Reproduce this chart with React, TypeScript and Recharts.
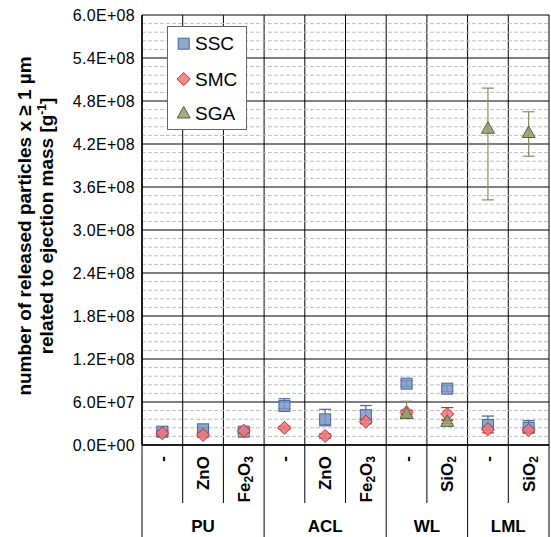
import React from 'react';
import {
  ComposedChart,
  Scatter,
  ErrorBar,
  XAxis,
  YAxis,
  CartesianGrid,
  ReferenceLine,
  Legend,
} from 'recharts';

const FONT = '"Liberation Sans", Arial, Helvetica, sans-serif';

// categories (sub labels) and their material groups
const CATS = ['-', 'ZnO', 'Fe2O3', '-', 'ZnO', 'Fe2O3', '-', 'SiO2', '-', 'SiO2'];
const GROUPS = ['PU', 'PU', 'PU', 'ACL', 'ACL', 'ACL', 'WL', 'WL', 'LML', 'LML'];

// series values [g^-1]
const SSC = [1.86e7, 2.19e7, 1.86e7, 5.45e7, 3.58e7, 4.16e7, 8.56e7, 7.86e7, 2.79e7, 2.4e7];
const SSC_ERR = [
  [2e6, 2e6], [2e6, 2e6], [2e6, 2e6], [4e6, 1e7], [9e6, 1.4e7],
  [5e6, 1.35e7], [4e6, 4e6], [4e6, 4e6], [4e6, 1.25e7], [4e6, 1e7],
];
const SMC = [1.63e7, 1.4e7, 2.0e7, 2.4e7, 1.26e7, 3.26e7, 4.55e7, 4.32e7, 2.19e7, 2.09e7];
const SMC_ERR = [
  [3e6, 3e6], [3e6, 3e6], [3e6, 3e6], [2e6, 2e6], [3e6, 3e6],
  [3e6, 3e6], [3e6, 3e6], [9e6, 9e6], [5e6, 5e6], [3e6, 3e6],
];
const SGA = [null, null, null, null, null, null, 4.4e7, 3.3e7, 4.42e8, 4.36e8];
const SGA_ERR = [null, null, null, null, null, null, [5e6, 1.7e7], [3e6, 3e6], [1.0e8, 5.6e7], [3.3e7, 2.9e7]];

// axis ticks
const Y_MAJOR = [0, 6e7, 1.2e8, 1.8e8, 2.4e8, 3.0e8, 3.6e8, 4.2e8, 4.8e8, 5.4e8, 6.0e8];
const Y_MINOR = Array.from({ length: 51 }, (_, i) => i * 1.2e7);
const X_TICKS = Array.from({ length: CATS.length + 1 }, (_, i) => i);

const rows = CATS.map((c, i) => ({
  x: i + 0.5,
  cat: c,
  ssc: SSC[i],
  sscErr: SSC_ERR[i],
  smc: SMC[i],
  smcErr: SMC_ERR[i],
  sga: SGA[i],
  sgaErr: SGA_ERR[i],
}));
const sgaRows = rows.filter((r) => r.sga != null);

const W = 551;
const H = 537;
const M = { top: 15, right: 2, bottom: 0, left: 0 };
const Y_W = 142;
const X_H = 92;
const BW = (W - M.left - M.right - Y_W) / CATS.length;

const fmt = (v: number) => {
  if (v === 0) return '0.0E+00';
  const e = Math.floor(Math.log10(v) + 1e-9);
  const m = v / Math.pow(10, e);
  return `${m.toFixed(1)}E+${String(e).padStart(2, '0')}`;
};

function Chem({ text }: { text: string }) {
  const parts: React.ReactNode[] = [];
  let sub = false;
  text.split('').forEach((ch, k) => {
    const isDigit = /[0-9]/.test(ch);
    if (isDigit) {
      parts.push(<tspan key={k} dy={sub ? 0 : 3} fontSize={12}>{ch}</tspan>);
      sub = true;
    } else {
      parts.push(<tspan key={k} dy={sub ? -3 : 0}>{ch}</tspan>);
      sub = false;
    }
  });
  return <>{parts}</>;
}

function groupStart(i: number) {
  return i < GROUPS.length && (i === 0 || GROUPS[i] !== GROUPS[i - 1]);
}

function XTick(props: any) {
  const { x, y, payload } = props;
  const i = payload.value as number;
  const boundary = i === 0 || i === CATS.length || groupStart(i);
  let groupLabel = null;
  if (groupStart(i)) {
    const n = GROUPS.filter((g) => g === GROUPS[i]).length;
    groupLabel = (
      <text x={x + (n * BW) / 2} y={y + 87} textAnchor="middle" fontSize={17} fontWeight="bold" fontFamily={FONT} fill="#000">
        {GROUPS[i]}
      </text>
    );
  }
  const cx = x + BW / 2;
  return (
    <g>
      <line x1={x} x2={x} y1={y} y2={boundary ? y + X_H : y + 58} stroke="#000" strokeWidth={1} />
      {i < CATS.length && (
        <text
          x={cx + 6}
          y={y + 11}
          transform={`rotate(-90 ${cx + 6} ${y + 11})`}
          textAnchor="end"
          fontSize={17}
          fontWeight="bold"
          fontFamily={FONT}
          fill="#000"
        >
          <Chem text={CATS[i]} />
        </text>
      )}
      {groupLabel}
    </g>
  );
}

function YLabel(props: any) {
  const vb = props.viewBox || {};
  const cy = (vb.y ?? M.top) + (vb.height ?? 430) / 2 - 4;
  const l1 = 31;
  const l2 = 53;
  return (
    <g fontFamily={FONT} fontWeight="bold" fontSize={19} fill="#000">
      <text x={l1} y={cy} transform={`rotate(-90 ${l1} ${cy})`} textAnchor="middle">
        number of released particles x ≥ 1 µm
      </text>
      <text x={l2} y={cy} transform={`rotate(-90 ${l2} ${cy})`} textAnchor="middle">
        related to ejection mass [g<tspan dy={-7} fontSize={12}>-1</tspan><tspan dy={7}>]</tspan>
      </text>
    </g>
  );
}

const SERIES = [
  { name: 'SSC', fill: '#7d97c4', stroke: '#46679c' },
  { name: 'SMC', fill: '#e77a7e', stroke: '#d2252c' },
  { name: 'SGA', fill: '#8f9d6e', stroke: '#52633a' },
];

function Marker({ kind, cx, cy, fill, stroke }: any) {
  if (cx == null || cy == null || isNaN(cx) || isNaN(cy)) return <g />;
  if (kind === 'SSC') {
    return <rect x={cx - 5.5} y={cy - 5.5} width={11} height={11} fill={fill} fillOpacity={0.85} stroke={stroke} strokeWidth={1} />;
  }
  if (kind === 'SMC') {
    return (
      <polygon
        points={`${cx},${cy - 6.5} ${cx + 6.5},${cy} ${cx},${cy + 6.5} ${cx - 6.5},${cy}`}
        fill={fill}
        fillOpacity={0.85}
        stroke={stroke}
        strokeWidth={1}
      />
    );
  }
  return (
    <polygon
      points={`${cx},${cy - 6.5} ${cx + 6.5},${cy + 5} ${cx - 6.5},${cy + 5}`}
      fill={fill}
      fillOpacity={0.85}
      stroke={stroke}
      strokeWidth={1}
    />
  );
}

function LegendBox() {
  const ys = [17.7, 53, 87];
  return (
    <svg width={80} height={104} style={{ display: 'block' }}>
      <rect x={0.5} y={0.5} width={79} height={103} fill="#fff" stroke="#666" strokeWidth={1} />
      {SERIES.map((s, k) => (
        <g key={s.name}>
          <Marker kind={s.name} cx={16.7} cy={ys[k]} fill={s.fill} stroke={s.stroke} />
          <text x={28} y={ys[k] + 6.5} fontSize={19} fontFamily={FONT} fill="#000">
            {s.name}
          </text>
        </g>
      ))}
    </svg>
  );
}

export default function App() {
  return (
    <div style={{ position: 'absolute', left: 0, top: 0, background: '#fff' }}>
      <ComposedChart width={W} height={H} data={rows} margin={M}>
        <CartesianGrid stroke="#000" strokeWidth={1} />
        {Y_MINOR.filter((v) => !Y_MAJOR.includes(v)).map((v) => (
          <ReferenceLine key={v} y={v} stroke="#bdbdbd" strokeDasharray="4 2" strokeWidth={1} />
        ))}
        <XAxis
          dataKey="x"
          type="number"
          domain={[0, CATS.length]}
          ticks={X_TICKS}
          interval={0}
          height={X_H}
          tickSize={0}
          tickMargin={0}
          tickLine={false}
          axisLine={{ stroke: '#000', strokeWidth: 1.5 }}
          tick={<XTick />}
        />
        <YAxis
          type="number"
          domain={[0, 6e8]}
          ticks={Y_MAJOR}
          interval={0}
          width={Y_W}
          tickFormatter={fmt}
          tickLine={false}
          tickSize={0}
          tickMargin={7}
          axisLine={{ stroke: '#000', strokeWidth: 1.5 }}
          tick={{ fontSize: 16, fill: '#000', fontFamily: FONT, letterSpacing: 0.3 }}
          label={<YLabel />}
          allowDataOverflow
        />
        <YAxis
          yAxisId="minor"
          mirror
          type="number"
          domain={[0, 6e8]}
          ticks={Y_MINOR}
          interval={0}
          width={0}
          axisLine={false}
          tickSize={5}
          tickLine={{ stroke: '#000' }}
          tick={() => <g />}
        />
        <Legend
          verticalAlign="middle"
          align="center"
          layout="horizontal"
          content={() => <LegendBox />}
          wrapperStyle={{ position: 'absolute', left: 167, top: 26, width: 80, height: 104 }}
        />
        <Scatter
          name="SSC"
          dataKey="ssc"
          isAnimationActive={false}
          shape={(p: any) => <Marker kind="SSC" cx={p.cx} cy={p.cy} fill={SERIES[0].fill} stroke={SERIES[0].stroke} />}
        >
          <ErrorBar dataKey="sscErr" direction="y" width={6} stroke="#46679c" strokeWidth={1.2} />
        </Scatter>
        <Scatter
          name="SMC"
          dataKey="smc"
          isAnimationActive={false}
          shape={(p: any) => <Marker kind="SMC" cx={p.cx} cy={p.cy} fill={SERIES[1].fill} stroke={SERIES[1].stroke} />}
        >
          <ErrorBar dataKey="smcErr" direction="y" width={6} stroke="#d2252c" strokeWidth={1.2} />
        </Scatter>
        <Scatter
          name="SGA"
          data={sgaRows}
          dataKey="sga"
          isAnimationActive={false}
          shape={(p: any) => <Marker kind="SGA" cx={p.cx} cy={p.cy} fill={SERIES[2].fill} stroke={SERIES[2].stroke} />}
        >
          <ErrorBar dataKey="sgaErr" direction="y" width={6} stroke="#7f8f5e" strokeWidth={1.2} />
        </Scatter>
      </ComposedChart>
    </div>
  );
}
